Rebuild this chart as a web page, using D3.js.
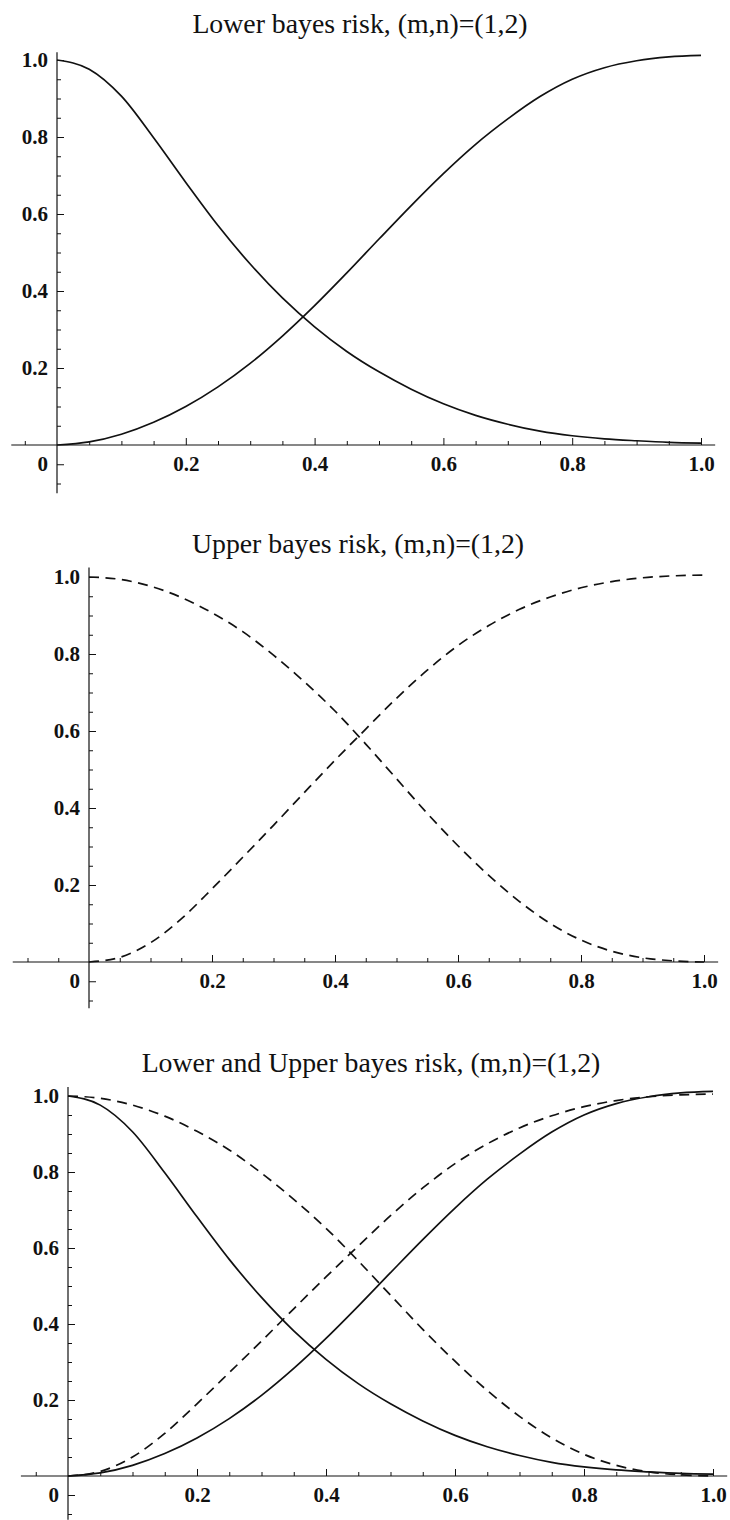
<!DOCTYPE html>
<meta charset="utf-8">
<head>
  <style>
    html, body { margin: 0; padding: 0; background: #fff; }
    svg { display: block; }
    .title { font-family: "Liberation Serif", "DejaVu Serif", serif; font-size: 27.8px; fill: #111; }
    .tick text { font-family: "Liberation Serif", serif; font-size: 21px; font-weight: bold; fill: #111; }
    .tick line { stroke: #111; }
  </style>
</head>
<script src="https://cdn.jsdelivr.net/npm/d3@7"></script>
<body>
<script>
  // sample points along x (0 .. 1)
  var xs = [0, 0.05, 0.1, 0.15, 0.2, 0.25, 0.3, 0.35, 0.4, 0.45, 0.5,
            0.55, 0.6, 0.65, 0.7, 0.75, 0.8, 0.85, 0.9, 0.95, 1.0];

  // lower bayes risk (solid)
  var lowerFalling = [1.0, 0.976, 0.906, 0.798, 0.682, 0.570, 0.47, 0.382, 0.307, 0.243, 0.19,
                      0.145, 0.107, 0.077, 0.054, 0.036, 0.024, 0.016, 0.011, 0.007, 0.005];
  var lowerRising  = [0, 0.008, 0.028, 0.059, 0.1, 0.151, 0.212, 0.283, 0.362, 0.447, 0.535,
                      0.622, 0.705, 0.781, 0.847, 0.905, 0.95, 0.98, 0.998, 1.008, 1.012];

  // upper bayes risk (dashed)
  var upperFalling = [1.0, 0.994, 0.976, 0.947, 0.907, 0.858, 0.797, 0.728, 0.652, 0.566, 0.476,
                      0.386, 0.302, 0.225, 0.157, 0.10, 0.057, 0.028, 0.011, 0.003, 0.0];
  var upperRising  = [0, 0.012, 0.05, 0.112, 0.19, 0.272, 0.355, 0.44, 0.524, 0.605, 0.685,
                      0.758, 0.822, 0.874, 0.916, 0.948, 0.972, 0.988, 0.998, 1.003, 1.005];

  var majorTicks = [0.2, 0.4, 0.6, 0.8, 1.0];
  var tickLabels = ["0.2", "0.4", "0.6", "0.8", "1.0"];
  var minorTicks = [-0.1, -0.05, 0.05, 0.1, 0.15, 0.25, 0.3, 0.35, 0.45, 0.5,
                    0.55, 0.65, 0.7, 0.75, 0.85, 0.9, 0.95];

  var titles = ["Lower bayes risk, (m,n)=(1,2)",
                "Upper bayes risk, (m,n)=(1,2)",
                "Lower and Upper bayes risk, (m,n)=(1,2)"];

  var width = 730, height = 1520;

  var svg = d3.select("body").append("svg")
    .attr("width", width)
    .attr("height", height);

  // where each panel sits on the page
  var panels = [
    {x0: 57, x1: 701, y0: 445, y1: 60,  xa: [-0.071, 1.022], ya: [-0.125, 1.02],  tx: 360, ty: 33,
     series: [{v: lowerFalling, dash: false}, {v: lowerRising, dash: false}]},
    {x0: 89, x1: 704, y0: 962, y1: 577, xa: [-0.124, 1.023], ya: [-0.12, 1.025],  tx: 358, ty: 553,
     series: [{v: upperFalling, dash: true}, {v: upperRising, dash: true}]},
    {x0: 68, x1: 713, y0: 1476, y1: 1096, xa: [-0.073, 1.022], ya: [-0.115, 1.024], tx: 371, ty: 1072,
     series: [{v: lowerFalling, dash: false}, {v: lowerRising, dash: false},
              {v: upperFalling, dash: true}, {v: upperRising, dash: true}]}
  ];

  panels.forEach(function(p, i) {
    var x = d3.scaleLinear().domain([0, 1]).range([p.x0, p.x1]);
    var y = d3.scaleLinear().domain([0, 1]).range([p.y0, p.y1]);
    var g = svg.append("g");

    g.append("text")
      .attr("class", "title")
      .attr("x", p.tx)
      .attr("y", p.ty)
      .attr("text-anchor", "middle")
      .text(titles[i]);

    // axis lines
    g.append("line")
      .attr("x1", x(p.xa[0])).attr("x2", x(p.xa[1]))
      .attr("y1", y(0)).attr("y2", y(0))
      .attr("stroke", "#111").attr("stroke-width", 1.2);
    g.append("line")
      .attr("x1", x(0)).attr("x2", x(0))
      .attr("y1", y(p.ya[0])).attr("y2", y(p.ya[1]))
      .attr("stroke", "#111").attr("stroke-width", 1.2);

    // x ticks (pointing up, labels below)
    var xMinor = minorTicks.filter(function(t) { return x(t) > x(p.xa[0]); });
    var gx = g.append("g").attr("transform", "translate(0," + y(0) + ")");
    gx.call(d3.axisBottom(x).tickValues(majorTicks).tickSize(-7).tickPadding(11)
      .tickFormat(function(d, k) { return tickLabels[k]; }));
    gx.append("g").call(d3.axisBottom(x).tickValues(xMinor).tickSize(-4).tickFormat(""));
    gx.selectAll(".domain").remove();

    // y ticks (pointing right, labels left)
    var gy = g.append("g").attr("transform", "translate(" + x(0) + ",0)");
    gy.call(d3.axisLeft(y).tickValues(majorTicks).tickSize(-7).tickPadding(9)
      .tickFormat(function(d, k) { return tickLabels[k]; }));
    gy.append("g").call(d3.axisLeft(y).tickValues([-0.1, 0.05, 0.1, 0.15, 0.25, 0.3, 0.35, 0.45, 0.5, 0.55, 0.65, 0.7, 0.75, 0.85, 0.9, 0.95])
      .tickSize(-4).tickFormat(""));
    gy.append("g").call(d3.axisLeft(y).tickValues([-0.05]).tickSize(-7).tickPadding(9)
      .tickFormat(function() { return "0"; }));
    gy.selectAll(".domain").remove();

    var line = d3.line()
      .x(function(d, k) { return x(xs[k]); })
      .y(function(d) { return y(d); })
      .curve(d3.curveMonotoneX);

    p.series.forEach(function(s) {
      g.append("path")
        .datum(s.v)
        .attr("d", line)
        .attr("fill", "none")
        .attr("stroke", "#111")
        .attr("stroke-width", 1.7)
        .attr("stroke-dasharray", s.dash ? "10,6.5" : null);
    });
  });
</script>
</body>
